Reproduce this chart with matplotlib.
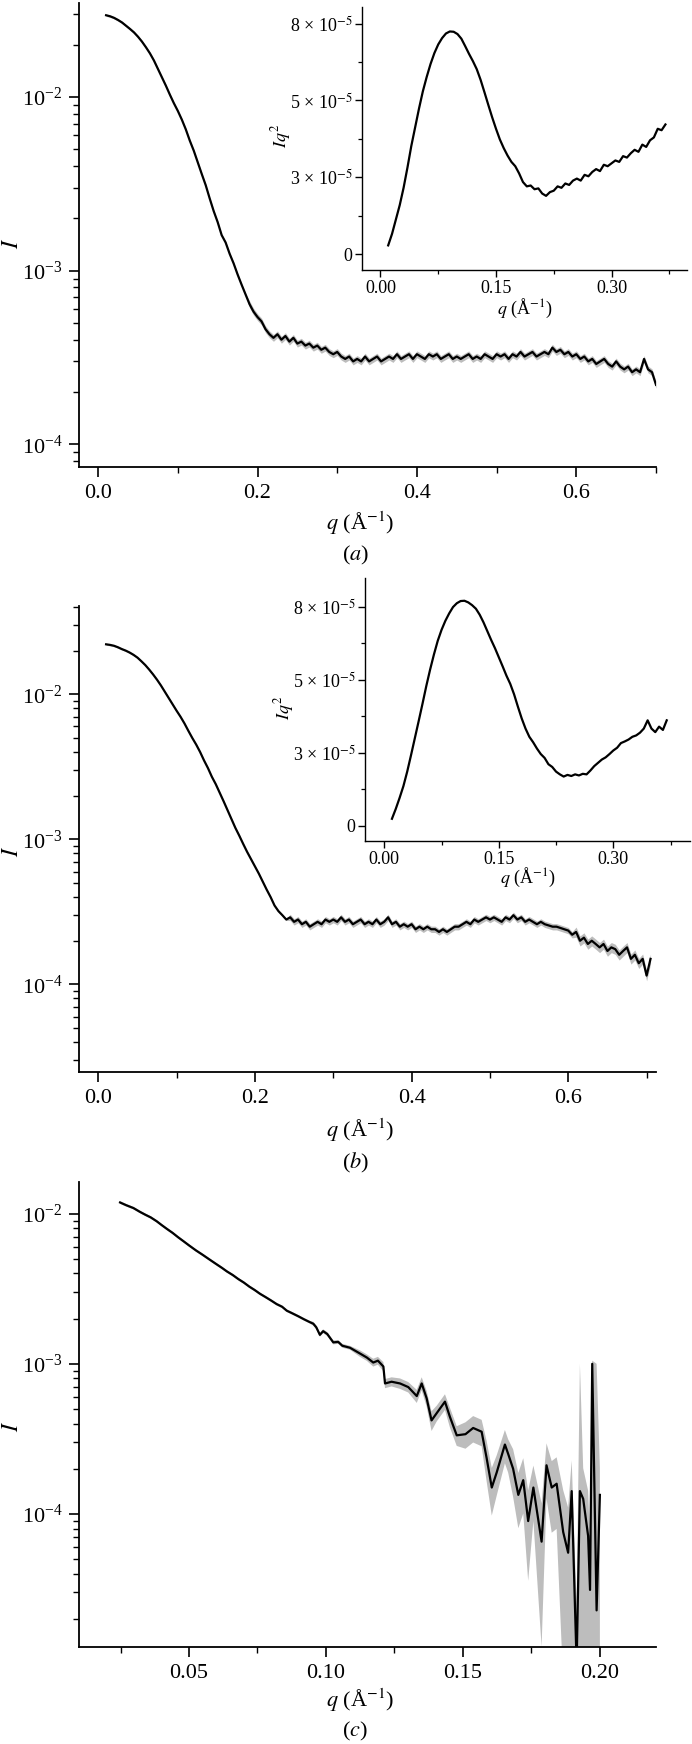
import numpy as np
import matplotlib
matplotlib.use("Agg")
import matplotlib.pyplot as plt
from matplotlib.ticker import FixedLocator, FixedFormatter, NullFormatter, LogLocator

plt.rcParams['font.family'] = ['Liberation Serif', 'DejaVu Serif']
plt.rcParams['mathtext.fontset'] = 'stix'

# ---------------- data: panel (a) ----------------
q_a = [0.010, 0.015, 0.020, 0.025, 0.030, 0.035, 0.040, 0.045, 0.050, 0.055,
       0.060, 0.065, 0.070, 0.075, 0.080, 0.085, 0.090, 0.095, 0.100, 0.105,
       0.110, 0.115, 0.120, 0.125, 0.130, 0.135, 0.140, 0.145, 0.150, 0.155,
       0.160, 0.165, 0.170, 0.175, 0.180, 0.185,
       0.190, 0.195, 0.200, 0.205, 0.210, 0.215, 0.220, 0.225, 0.230, 0.235,
       0.240, 0.245, 0.250, 0.255, 0.260, 0.265, 0.270, 0.275, 0.280, 0.285,
       0.290, 0.295, 0.300, 0.305, 0.310, 0.315, 0.320, 0.325, 0.330, 0.335,
       0.340, 0.345, 0.350, 0.355, 0.360, 0.365, 0.370, 0.375, 0.380, 0.385,
       0.390, 0.395, 0.400, 0.405, 0.410, 0.415, 0.420, 0.425, 0.430, 0.435,
       0.440, 0.445, 0.450, 0.455, 0.460, 0.465, 0.470, 0.475, 0.480, 0.485,
       0.490, 0.495, 0.500, 0.505, 0.510, 0.515, 0.520, 0.525, 0.530, 0.535,
       0.540, 0.545, 0.550, 0.555, 0.560, 0.565, 0.570, 0.575, 0.580, 0.585,
       0.590, 0.595, 0.600, 0.605, 0.610, 0.615, 0.620, 0.625, 0.630, 0.635,
       0.640, 0.645, 0.650, 0.655, 0.660, 0.665, 0.670, 0.675, 0.680, 0.685,
       0.690, 0.695, 0.700]
I_a = [0.0295, 0.0291, 0.0285, 0.0277, 0.0268, 0.0257, 0.0246, 0.0235, 0.0222, 0.0208,
       0.0193, 0.0178, 0.0162, 0.0145, 0.0130, 0.0116, 0.0103, 0.0092, 0.0083, 0.0074,
       0.0065, 0.0056, 0.0049, 0.0042, 0.0036, 0.0031, 0.0026, 0.0022, 0.0019, 0.0016,
       0.00145, 0.00125, 0.00110, 0.00095, 0.00083, 0.00073,
       6.4e-4, 5.8e-4, 5.4e-4, 5.1e-4, 4.6e-4, 4.3e-4, 4.1e-4, 4.3e-4, 4.0e-4, 4.2e-4,
       3.9e-4, 4.1e-4, 3.8e-4, 3.9e-4, 3.7e-4, 3.8e-4, 3.6e-4, 3.7e-4, 3.5e-4, 3.6e-4,
       3.4e-4, 3.3e-4, 3.4e-4, 3.2e-4, 3.1e-4, 3.2e-4, 3.0e-4, 3.1e-4, 3.0e-4, 3.2e-4,
       3.0e-4, 3.1e-4, 3.2e-4, 3.0e-4, 3.1e-4, 3.2e-4, 3.1e-4, 3.3e-4, 3.1e-4, 3.2e-4,
       3.3e-4, 3.1e-4, 3.3e-4, 3.2e-4, 3.1e-4, 3.3e-4, 3.2e-4, 3.3e-4, 3.1e-4, 3.2e-4,
       3.3e-4, 3.1e-4, 3.2e-4, 3.1e-4, 3.2e-4, 3.3e-4, 3.1e-4, 3.2e-4, 3.1e-4, 3.3e-4,
       3.2e-4, 3.1e-4, 3.3e-4, 3.2e-4, 3.3e-4, 3.1e-4, 3.3e-4, 3.2e-4, 3.4e-4, 3.2e-4,
       3.3e-4, 3.4e-4, 3.2e-4, 3.3e-4, 3.4e-4, 3.3e-4, 3.6e-4, 3.4e-4, 3.5e-4, 3.3e-4,
       3.4e-4, 3.2e-4, 3.3e-4, 3.1e-4, 3.2e-4, 3.0e-4, 3.1e-4, 2.9e-4, 3.0e-4, 3.1e-4,
       2.9e-4, 2.8e-4, 3.0e-4, 2.8e-4, 2.7e-4, 2.8e-4, 2.6e-4, 2.7e-4, 2.6e-4, 3.1e-4,
       2.7e-4, 2.6e-4, 2.2e-4]
relerr_a = [0.015] * 36 + [0.045] * 103

# inset (a): Kratky representation I*q^2
qi_a = [0.010, 0.015, 0.020, 0.025, 0.030, 0.035, 0.040, 0.045, 0.050, 0.055,
        0.060, 0.065, 0.070, 0.075, 0.080, 0.085, 0.090, 0.095, 0.100, 0.105,
        0.110, 0.115, 0.120, 0.125, 0.130, 0.135, 0.140, 0.145, 0.150, 0.155,
        0.160, 0.165, 0.170, 0.175, 0.180, 0.185, 0.190, 0.195, 0.200, 0.205,
        0.210, 0.215, 0.220, 0.225, 0.230, 0.235, 0.240, 0.245, 0.250, 0.255,
        0.260, 0.265, 0.270, 0.275, 0.280, 0.285, 0.290, 0.295, 0.300, 0.305,
        0.310, 0.315, 0.320, 0.325, 0.330, 0.335, 0.340, 0.345, 0.350, 0.355,
        0.360, 0.365, 0.370]
Iq2_a = [0.30, 0.70, 1.20, 1.70, 2.30, 3.00, 3.75, 4.40, 5.05, 5.65,
         6.15, 6.60, 6.98, 7.28, 7.50, 7.66, 7.73, 7.72, 7.64, 7.48,
         7.22, 6.95, 6.70, 6.42, 6.05, 5.62, 5.18, 4.75, 4.35, 3.98,
         3.68, 3.42, 3.20, 3.05, 2.80, 2.50, 2.35, 2.38, 2.25, 2.28,
         2.10, 2.02, 2.15, 2.20, 2.35, 2.30, 2.45, 2.40, 2.55, 2.62,
         2.55, 2.75, 2.70, 2.85, 2.95, 2.88, 3.10, 3.05, 3.15, 3.25,
         3.20, 3.40, 3.35, 3.50, 3.62, 3.55, 3.80, 3.72, 3.95, 4.05,
         4.35, 4.30, 4.50]  # units of 1e-5

# ---------------- data: panel (b) ----------------
q_b = [0.010, 0.015, 0.020, 0.025, 0.030, 0.035, 0.040, 0.045, 0.050, 0.055,
       0.060, 0.065, 0.070, 0.075, 0.080, 0.085, 0.090, 0.095, 0.100, 0.105,
       0.110, 0.115, 0.120, 0.125, 0.130, 0.135, 0.140, 0.145, 0.150, 0.155,
       0.160, 0.165, 0.170, 0.175, 0.180, 0.185, 0.190, 0.195, 0.200, 0.205,
       0.210, 0.215, 0.220, 0.225, 0.230, 0.235, 0.240,
       0.245, 0.250, 0.255, 0.260, 0.265, 0.270, 0.275, 0.280, 0.285, 0.290,
       0.295, 0.300, 0.305, 0.310, 0.315, 0.320, 0.325, 0.330, 0.335, 0.340,
       0.345, 0.350, 0.355, 0.360, 0.365, 0.370, 0.375, 0.380, 0.385, 0.390,
       0.395, 0.400, 0.405, 0.410, 0.415, 0.420, 0.425, 0.430, 0.435, 0.440,
       0.445, 0.450, 0.455, 0.460, 0.465, 0.470, 0.475, 0.480, 0.485, 0.490,
       0.495, 0.500, 0.505, 0.510, 0.515, 0.520, 0.525, 0.530, 0.535, 0.540,
       0.545, 0.550, 0.555, 0.560, 0.565, 0.570, 0.575, 0.580, 0.585, 0.590,
       0.595, 0.600, 0.605, 0.610, 0.615, 0.620, 0.625, 0.630, 0.635, 0.640,
       0.645, 0.650, 0.655, 0.660, 0.665, 0.670, 0.675, 0.680, 0.685, 0.690,
       0.695, 0.700, 0.705]
I_b = [0.0221, 0.0219, 0.0216, 0.0211, 0.0205, 0.0200, 0.0194, 0.0187, 0.0179, 0.0169,
       0.0159, 0.0148, 0.0137, 0.0126, 0.0115, 0.0104, 0.0094, 0.0085, 0.0077, 0.0070,
       0.0063, 0.0056, 0.0050, 0.0045, 0.0040, 0.0035, 0.0031, 0.0027, 0.0024, 0.0021,
       0.00183, 0.00159, 0.00138, 0.00120, 0.00106, 0.00093, 0.00082, 0.00073, 0.00065, 0.00058,
       0.00051, 0.00045, 0.00040, 0.00035, 0.00032, 0.00030, 0.00028,
       2.9e-4, 2.7e-4, 2.8e-4, 2.6e-4, 2.7e-4, 2.5e-4, 2.6e-4, 2.7e-4, 2.6e-4, 2.8e-4,
       2.7e-4, 2.8e-4, 2.7e-4, 2.9e-4, 2.7e-4, 2.8e-4, 2.6e-4, 2.7e-4, 2.8e-4, 2.6e-4,
       2.7e-4, 2.6e-4, 2.8e-4, 2.6e-4, 2.7e-4, 2.9e-4, 2.6e-4, 2.7e-4, 2.5e-4, 2.6e-4,
       2.5e-4, 2.6e-4, 2.4e-4, 2.5e-4, 2.4e-4, 2.5e-4, 2.4e-4, 2.4e-4, 2.3e-4, 2.4e-4,
       2.3e-4, 2.4e-4, 2.5e-4, 2.5e-4, 2.6e-4, 2.7e-4, 2.6e-4, 2.8e-4, 2.7e-4, 2.8e-4,
       2.9e-4, 2.8e-4, 2.9e-4, 2.8e-4, 2.7e-4, 2.9e-4, 2.8e-4, 3.0e-4, 2.8e-4, 2.9e-4,
       2.7e-4, 2.8e-4, 2.7e-4, 2.6e-4, 2.7e-4, 2.6e-4, 2.55e-4, 2.5e-4, 2.5e-4, 2.45e-4,
       2.4e-4, 2.35e-4, 2.2e-4, 2.3e-4, 2.0e-4, 2.1e-4, 1.9e-4, 2.0e-4, 1.9e-4, 1.8e-4,
       1.9e-4, 1.7e-4, 1.8e-4, 1.75e-4, 1.6e-4, 1.7e-4, 1.8e-4, 1.5e-4, 1.6e-4, 1.4e-4,
       1.5e-4, 1.15e-4, 1.5e-4]
relerr_b = [0.015] * 47 + [0.05] * 73 + [0.08] * 20

qi_b = [0.010, 0.015, 0.020, 0.025, 0.030, 0.035, 0.040, 0.045, 0.050, 0.055,
        0.060, 0.065, 0.070, 0.075, 0.080, 0.085, 0.090, 0.095, 0.100, 0.105,
        0.110, 0.115, 0.120, 0.125, 0.130, 0.135, 0.140, 0.145, 0.150, 0.155,
        0.160, 0.165, 0.170, 0.175, 0.180, 0.185, 0.190, 0.195, 0.200, 0.205,
        0.210, 0.215, 0.220, 0.225, 0.230, 0.235, 0.240, 0.245, 0.250, 0.255,
        0.260, 0.265, 0.270, 0.275, 0.280, 0.285, 0.290, 0.295, 0.300, 0.305,
        0.310, 0.315, 0.320, 0.325, 0.330, 0.335, 0.340, 0.345, 0.350, 0.355,
        0.360, 0.365, 0.370]
Iq2_b = [0.26, 0.62, 1.02, 1.45, 1.98, 2.58, 3.20, 3.82, 4.45, 5.10,
         5.70, 6.25, 6.75, 7.15, 7.48, 7.75, 7.98, 8.12, 8.20, 8.21,
         8.15, 8.05, 7.92, 7.70, 7.42, 7.10, 6.78, 6.48, 6.15, 5.82,
         5.48, 5.18, 4.80, 4.35, 3.92, 3.55, 3.25, 3.05, 2.82, 2.62,
         2.48, 2.25, 2.15, 1.98, 1.88, 1.80, 1.86, 1.82, 1.88, 1.84,
         1.90, 1.88, 2.02, 2.18, 2.30, 2.42, 2.50, 2.62, 2.75, 2.85,
         3.02, 3.08, 3.15, 3.25, 3.30, 3.40, 3.55, 3.85, 3.55, 3.42,
         3.62, 3.50, 3.85]  # units of 1e-5

# ---------------- data: panel (c) ----------------
q_c = [0.0248, 0.0270, 0.0297, 0.0320, 0.0340, 0.0360, 0.0382, 0.0400, 0.0420, 0.0440,
       0.0460, 0.0480, 0.0500, 0.0525, 0.0550, 0.0575, 0.0600, 0.0620, 0.0638, 0.0660,
       0.0680, 0.0700, 0.0720, 0.0740, 0.0759, 0.0780, 0.0800, 0.0820, 0.0840, 0.0857,
       0.0875, 0.0900, 0.0920, 0.0940, 0.0954, 0.0965, 0.0978, 0.0990, 0.1005, 0.1027,
       0.1045, 0.1060, 0.1088,
       0.1125, 0.1150, 0.1173, 0.1190, 0.1210, 0.1216, 0.1240, 0.1271, 0.1301, 0.1332,
       0.1350, 0.1368, 0.1386, 0.1405, 0.1435, 0.1453, 0.1478, 0.1510, 0.1538, 0.1569,
       0.1587, 0.1606, 0.1624, 0.1654, 0.1666, 0.1684, 0.1703, 0.1721, 0.1739, 0.1758,
       0.1788, 0.1806, 0.1825, 0.1843, 0.1867, 0.1885, 0.1898, 0.1916, 0.1928, 0.1940,
       0.1958, 0.1965, 0.1973, 0.1989, 0.2001]
I_c = [0.01188, 0.01140, 0.01090, 0.01030, 0.00985, 0.00945, 0.00890, 0.00840, 0.00790, 0.00745,
       0.00697, 0.00655, 0.00615, 0.00570, 0.00532, 0.00495, 0.00461, 0.00436, 0.00413, 0.00390,
       0.00367, 0.00348, 0.00327, 0.00310, 0.00293, 0.00278, 0.00264, 0.00250, 0.00240, 0.00226,
       0.00218, 0.00207, 0.00198, 0.00190, 0.00185, 0.00175, 0.00156, 0.00165, 0.00158, 0.00139,
       0.00140, 0.00132, 0.00128,
       1.17e-3, 1.10e-3, 1.02e-3, 1.05e-3, 9.6e-4, 7.4e-4, 7.6e-4, 7.4e-4, 7.0e-4, 6.1e-4,
       7.4e-4, 5.9e-4, 4.2e-4, 4.7e-4, 5.6e-4, 4.44e-4, 3.34e-4, 3.4e-4, 3.74e-4, 3.53e-4,
       2.37e-4, 1.5e-4, 1.89e-4, 2.9e-4, 2.51e-4, 2.0e-4, 1.34e-4, 1.68e-4, 8.97e-5, 1.5e-4,
       6.54e-5, 2.11e-4, 1.5e-4, 1.59e-4, 7.57e-5, 5.52e-5, 1.42e-4, 1.0e-5, 1.42e-4, 1.26e-4,
       7.14e-5, 3.12e-5, 1.0e-3, 2.28e-5, 1.34e-4]
relerr_c = [0.02] * 34 + [0.03] * 9 + \
           [0.05, 0.05, 0.06, 0.06, 0.07, 0.07, 0.07, 0.08, 0.08, 0.10,
            0.10, 0.12, 0.15, 0.12, 0.12, 0.15, 0.15, 0.20, 0.20, 0.20,
            0.30, 0.35, 0.30, 0.25, 0.25, 0.35, 0.40, 0.40, 0.60, 0.40,
            0.80, 0.40, 0.50, 0.50, 0.90, 1.00, 0.60, 1.50, 6.04, 0.60,
            1.00, 1.20, 0.05, 42.9, 0.50]

inset_ytick_labels = ['0', '3 × 10$^{-5}$', '5 × 10$^{-5}$', '8 × 10$^{-5}$']

# ---------------- figure ----------------
W, H = 692, 1744
fig = plt.figure(figsize=(W / 100, H / 100), dpi=100)


def add_ax(l, t, r, b):
    return fig.add_axes([l / W, 1 - b / H, (r - l) / W, (b - t) / H])


BAND = '#bdbdbd'


def style_main(ax):
    for s in ('top', 'right'):
        ax.spines[s].set_visible(False)
    for s in ('left', 'bottom'):
        ax.spines[s].set_linewidth(1.3)
    ax.tick_params(which='major', direction='out', length=7.5, width=1.2,
                   labelsize=16, pad=4.5)
    ax.tick_params(which='minor', direction='out', length=4.5, width=1.0)


def style_inset(ax):
    for s in ('top', 'right'):
        ax.spines[s].set_visible(False)
    for s in ('left', 'bottom'):
        ax.spines[s].set_linewidth(1.0)
    ax.patch.set_visible(False)
    ax.tick_params(which='major', direction='out', length=5, width=1.0,
                   labelsize=13, pad=2.0)
    ax.tick_params(which='minor', direction='out', length=3, width=0.9)


def draw_main(ax, q, I, rel, xlim, ylim, xmaj, xmin, xlab, ylab_y, qlab_y, sub_y, sub):
    q = np.asarray(q); I = np.asarray(I); rel = np.asarray(rel)
    ax.set_yscale('log')
    ax.fill_between(q, I * (1 - rel), I * (1 + rel), color=BAND, lw=0, zorder=1)
    ax.plot(q, I, color='black', lw=1.6, zorder=2)
    ax.set_xlim(*xlim)
    ax.set_ylim(*ylim)
    ax.xaxis.set_major_locator(FixedLocator(xmaj))
    ax.xaxis.set_major_formatter(FixedFormatter(xlab))
    ax.xaxis.set_minor_locator(FixedLocator(xmin))
    ax.yaxis.set_major_locator(LogLocator(base=10, numticks=10))
    ax.yaxis.set_minor_locator(LogLocator(base=10, subs=np.arange(2, 10), numticks=20))
    ax.yaxis.set_minor_formatter(NullFormatter())
    style_main(ax)
    ax.set_ylabel('$I$', fontsize=17)
    ax.yaxis.label.set_verticalalignment('center')
    ax.yaxis.set_label_coords(-0.116, ylab_y)
    ax.set_xlabel(r'$q$ (Å$^{-1}$)', fontsize=16)
    ax.xaxis.label.set_verticalalignment('center')
    ax.xaxis.set_label_coords(0.487, qlab_y)
    ax.text(0.479, sub_y, sub, transform=ax.transAxes, ha='center', va='center',
            fontsize=16)


def draw_inset(ax, q, iq2, xlim, ylim, lab_x, lab_y):
    ax.plot(q, np.asarray(iq2) * 1e-5, color='black', lw=1.6)
    ax.set_xlim(*xlim)
    ax.set_ylim(ylim[0] * 1e-5, ylim[1] * 1e-5)
    ax.xaxis.set_major_locator(FixedLocator([0.0, 0.15, 0.30]))
    ax.xaxis.set_major_formatter(FixedFormatter(['0.00', '0.15', '0.30']))
    ax.xaxis.set_minor_locator(FixedLocator([0.075, 0.225, 0.375]))
    yt = [0.0, 8e-5 / 3, 16e-5 / 3, 8e-5]
    ax.yaxis.set_major_locator(FixedLocator(yt))
    ax.yaxis.set_major_formatter(FixedFormatter(inset_ytick_labels))
    ax.yaxis.set_minor_locator(FixedLocator([4e-5 / 3, 12e-5 / 3, 20e-5 / 3]))
    style_inset(ax)
    ax.set_xlabel(r'$q$ (Å$^{-1}$)', fontsize=13)
    ax.xaxis.label.set_verticalalignment('center')
    ax.xaxis.set_label_coords(0.50, lab_x)
    ax.set_ylabel(r'$Iq^2$', fontsize=13)
    ax.yaxis.label.set_verticalalignment('center')
    ax.yaxis.set_label_coords(-0.25, lab_y)


# panel (a)
ax_a = add_ax(79, 3, 656, 467)
draw_main(ax_a, q_a, I_a, relerr_a, (-0.024, 0.700), (7.4e-5, 0.0347),
          [0.0, 0.2, 0.4, 0.6], [0.1, 0.3, 0.5, 0.7], ['0.0', '0.2', '0.4', '0.6'],
          0.483, -0.121, -0.190, '($a$)')
ax_ai = add_ax(362, 7, 687, 270)
draw_inset(ax_ai, qi_a, Iq2_a, (-0.024, 0.398), (-0.555, 8.58), -0.145, 0.51)

# panel (b)
ax_b = add_ax(79, 606, 656, 1072)
draw_main(ax_b, q_b, I_b, relerr_b, (-0.0246, 0.712), (2.49e-5, 0.0406),
          [0.0, 0.2, 0.4, 0.6], [0.1, 0.3, 0.5, 0.7], ['0.0', '0.2', '0.4', '0.6'],
          0.474, -0.1245, -0.195, '($b$)')
ax_bi = add_ax(365, 578, 690, 841)
draw_inset(ax_bi, qi_b, Iq2_b, (-0.0253, 0.4005), (-0.55, 9.04), -0.14, 0.506)

# panel (c)
ax_c = add_ax(79, 1182, 656, 1647)
draw_main(ax_c, q_c, I_c, relerr_c, (0.0098, 0.2206), (1.30e-5, 0.01626),
          [0.05, 0.10, 0.15, 0.20], [0.025, 0.075, 0.125, 0.175],
          ['0.05', '0.10', '0.15', '0.20'],
          0.475, -0.114, -0.182, '($c$)')

fig.savefig('out.png', dpi=100)
